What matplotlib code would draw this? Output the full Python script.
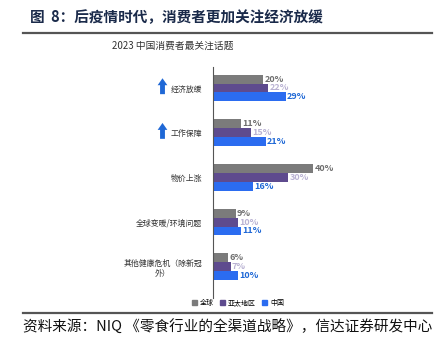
import matplotlib.pyplot as plt
import numpy as np
from matplotlib.lines import Line2D
from matplotlib.patches import Patch

plt.rcParams['font.family'] = ['Noto Sans CJK SC', 'DejaVu Sans']

categories = ['经济放缓', '工作保障', '物价上涨', '全球变暖/环境问题', '其他健康危机（除新冠\n外）']
series_names = ['全球', '亚太地区', '中国']
global_vals = [20, 11, 40, 9, 6]
apac_vals = [22, 15, 30, 10, 7]
china_vals = [29, 21, 16, 11, 10]
arrow_cats = [0, 1]

bar_colors = ['#7b7b7b', '#5e4b8e', '#2b6cf0']
label_colors = ['#6e6e6e', '#b9b2d3', '#1f68d6']

fig = plt.figure(figsize=(4.45, 3.41), dpi=100)
ax = fig.add_axes([213 / 445, 1 - 298 / 341, 122 / 445, 231 / 341])

y = np.arange(len(categories))
h = 0.2
for i, (vals, c, lc) in enumerate(zip([global_vals, apac_vals, china_vals], bar_colors, label_colors)):
    pos = y + (i - 1) * h
    ax.barh(pos, vals, height=h, color=c, label=series_names[i])
    for p, v in zip(pos, vals):
        ax.text(v + 0.6, p, f'{v}%', va='center', ha='left', fontsize=6.5,
                fontweight='bold', color=lc)

ax.set_xlim(0, 48.8)
ax.set_ylim(4.70, -0.47)
ax.set_xticks([])
ax.set_yticks(y)
ax.set_yticklabels(categories, fontsize=5.7, color='#333333', multialignment='center')
ax.tick_params(axis='y', length=0, pad=8)
for s in ['top', 'right', 'bottom']:
    ax.spines[s].set_visible(False)
ax.spines['left'].set_color('#555555')
ax.spines['left'].set_linewidth(0.8)

# arrows
for k in arrow_cats:
    ax.annotate('', xy=(-20.2, k - 0.28), xytext=(-20.2, k + 0.2),
                xycoords='data', annotation_clip=False,
                arrowprops=dict(arrowstyle='simple,head_length=0.5,head_width=0.7,tail_width=0.35',
                                color='#1f68d6', lw=0))

fig.text(112 / 445, 1 - 46 / 341, '2023 中国消费者最关注话题', fontsize=7,
         color='#333333', ha='left', va='center')

handles = [Patch(color=c) for c in bar_colors]
fig.legend(handles, series_names, loc='center', bbox_to_anchor=(238 / 445, 1 - 303 / 341),
           ncol=3, frameon=False, fontsize=5, handlelength=0.7, handleheight=0.7,
           handletextpad=0.5, columnspacing=0.8)

fig.text(30 / 445, 1 - 17 / 341, '图  8：后疫情时代，消费者更加关注经济放缓', fontsize=10.5,
         fontweight='bold', color='#1a2a4a', ha='left', va='center')
fig.add_artist(Line2D([23 / 445, 432 / 445], [1 - 33 / 341] * 2, color='#555555', lw=1.6))
fig.add_artist(Line2D([23 / 445, 432 / 445], [1 - 313 / 341] * 2, color='#555555', lw=1.6))
fig.text(23 / 445, 1 - 327 / 341, '资料来源：NIQ 《零食行业的全渠道战略》，信达证券研发中心',
         fontsize=10.5, color='#111111', ha='left', va='center')

fig.savefig('out.png', dpi=100)
